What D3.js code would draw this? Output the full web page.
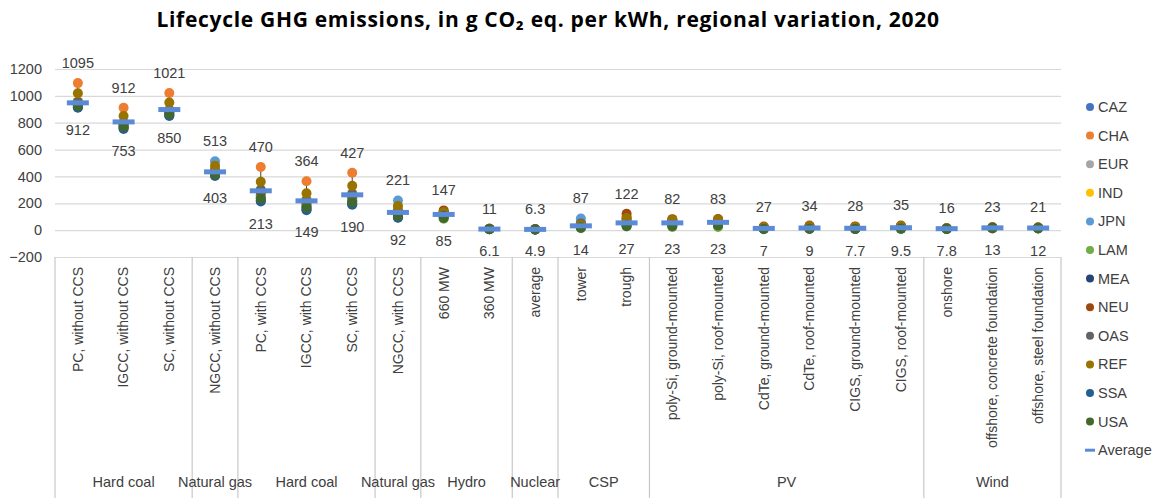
<!DOCTYPE html>
<html>
<head>
<meta charset="utf-8">
<script src="https://cdn.jsdelivr.net/npm/d3@7"></script>
<style>
  html, body { margin: 0; padding: 0; background: #fff; }
  svg { display: block; font-family: "Liberation Sans", Arial, sans-serif; }
</style>
</head>
<body>
<div id="chart"></div>
<script>
// categories (lower level of the x axis) and their groups (upper level)
const categories = [
  'PC, without CCS', 'IGCC, without CCS', 'SC, without CCS',
  'NGCC, without CCS',
  'PC, with CCS', 'IGCC, with CCS', 'SC, with CCS',
  'NGCC, with CCS',
  '660 MW', '360 MW',
  'average',
  'tower', 'trough',
  'poly-Si, ground-mounted', 'poly-Si, roof-mounted', 'CdTe, ground-mounted',
  'CdTe, roof-mounted', 'CIGS, ground-mounted', 'CIGS, roof-mounted',
  'onshore', 'offshore, concrete foundation', 'offshore, steel foundation'
];
const groupNames = ['Hard coal', 'Natural gas', 'Hard coal', 'Natural gas', 'Hydro', 'Nuclear', 'CSP', 'PV', 'Wind'];
const groupSizes = [3, 1, 3, 1, 2, 1, 2, 6, 3];

const regions = ['CAZ', 'CHA', 'EUR', 'IND', 'JPN', 'LAM', 'MEA', 'NEU', 'OAS', 'REF', 'SSA', 'USA'];
const regionColors = ['#4472c4', '#ed7d31', '#a5a5a5', '#ffc000', '#5b9bd5', '#70ad47',
                      '#264478', '#9e480e', '#636363', '#997300', '#255e91', '#43682b'];

// regional values, g CO2 eq. per kWh
const CAZ = [930, 775, 870, 420, 240, 175, 215, 110, 100, 7, 5.2, 30, 45, 45, 50, 10, 12, 10, 13, 9, 15, 14];
const CHA = [1095, 912, 1021, 450, 470, 364, 427, 150, 140, 9, 5.8, 60, 100, 75, 78, 22, 28, 23, 29, 13, 19, 18];
const EUR = [945, 790, 885, 425, 270, 200, 240, 120, 115, 8, 5.4, 25, 50, 50, 55, 12, 15, 12, 15, 10, 16, 15];
const IND = [960, 800, 900, 470, 300, 230, 275, 175, 125, 10, 6.0, 55, 80, 70, 72, 18, 22, 19, 23, 14, 20, 19];
const JPN = [935, 780, 875, 513, 250, 185, 225, 221, 110, 8, 5.5, 87, 70, 55, 60, 14, 17, 14, 18, 11, 17, 16];
const LAM = [940, 785, 880, 430, 260, 190, 235, 125, 85, 6.1, 5.0, 14, 27, 23, 23, 7, 9, 7.7, 9.5, 7.8, 13, 12];
const MEA = [915, 760, 855, 410, 220, 155, 195, 95, 120, 9, 5.6, 35, 55, 55, 58, 13, 16, 13, 17, 12, 18, 17];
const NEU = [950, 795, 890, 425, 280, 210, 250, 115, 147, 11, 6.3, 45, 122, 82, 83, 27, 34, 28, 35, 10.5, 16.5, 15.5];
const OAS = [955, 800, 895, 445, 300, 225, 270, 145, 130, 9.5, 5.9, 50, 85, 65, 68, 17, 21, 18, 22, 13, 19.5, 18];
const REF = [1020, 850, 950, 480, 360, 275, 330, 180, 135, 10, 6.1, 40, 90, 78, 80, 24, 30, 25, 31, 16, 23, 21];
const SSA = [912, 753, 850, 403, 213, 149, 190, 92, 105, 7.5, 5.3, 20, 35, 35, 40, 9, 11, 9, 11.5, 9.5, 15.5, 14.5];
const USA = [925, 770, 865, 415, 235, 170, 210, 105, 90, 6.5, 4.9, 18, 30, 30, 35, 8, 10, 8.5, 10.5, 8.5, 14, 13];
const average = [948, 806, 898, 434, 293, 218, 263, 132, 117, 8, 5.5, 32, 54, 54, 58, 13, 16, 14, 18, 11, 17, 16];

const yTicks = [-200, 0, 200, 400, 600, 800, 1000, 1200];

const regionValues = [CAZ, CHA, EUR, IND, JPN, LAM, MEA, NEU, OAS, REF, SSA, USA];

const width = 1158, height = 498;
const plotLeft = 55, plotRight = 1061, plotTop = 69, plotBottom = 257;
const textColor = '#404040';
const avgColor = '#5b8bd6';

const svg = d3.select('#chart').append('svg')
  .attr('width', width).attr('height', height);

// title
svg.append('text')
  .attr('x', 548).attr('y', 27)
  .attr('text-anchor', 'middle')
  .attr('font-family', '"Open Sans", Lato, sans-serif')
  .attr('font-weight', '700')
  .attr('font-size', '21px')
  .attr('letter-spacing', '0.7px')
  .attr('fill', '#000')
  .text('Lifecycle GHG emissions, in g CO\u2082 eq. per kWh, regional variation, 2020');

const x = d3.scaleBand()
  .domain(d3.range(categories.length))
  .range([plotLeft, plotRight]);

const y = d3.scaleLinear()
  .domain([yTicks[0], yTicks[yTicks.length - 1]])
  .range([plotBottom, plotTop]);

// gridlines + y tick labels
const yAxis = svg.append('g')
  .attr('transform', `translate(${plotLeft},0)`)
  .call(d3.axisLeft(y)
    .tickValues(yTicks)
    .tickSizeInner(-(plotRight - plotLeft))
    .tickSizeOuter(0)
    .tickPadding(13)
    .tickFormat(d3.format('d')));
yAxis.select('.domain').remove();
yAxis.selectAll('.tick line').attr('stroke', '#d9d9d9').attr('stroke-width', 1.2);
yAxis.selectAll('.tick text')
  .attr('font-size', '14.5px')
  .attr('fill', textColor)
  .attr('font-family', '"Liberation Sans", Arial, sans-serif');

// group separators (multi-level category axis)
const bounds = [0];
groupSizes.forEach(n => bounds.push(bounds[bounds.length - 1] + n));
svg.append('g')
  .selectAll('line')
  .data(bounds)
  .join('line')
  .attr('x1', d => d < categories.length ? x(d) : x(categories.length - 1) + x.bandwidth())
  .attr('x2', d => d < categories.length ? x(d) : x(categories.length - 1) + x.bandwidth())
  .attr('y1', plotBottom).attr('y2', height)
  .attr('stroke', '#c8c8c8').attr('stroke-width', 1.2);

// category labels (rotated)
svg.append('g')
  .selectAll('text')
  .data(categories)
  .join('text')
  .attr('transform', (d, i) => `translate(${x(i) + x.bandwidth() / 2},267) rotate(-90)`)
  .attr('dy', '0.35em')
  .attr('text-anchor', 'end')
  .attr('font-size', '14px')
  .attr('fill', textColor)
  .text(d => d);

// group labels
svg.append('g')
  .selectAll('text')
  .data(groupNames)
  .join('text')
  .attr('x', (d, i) => {
    const a = x(bounds[i]);
    const b = x(bounds[i + 1] - 1) + x.bandwidth();
    return (a + b) / 2;
  })
  .attr('y', 487)
  .attr('text-anchor', 'middle')
  .attr('font-size', '14.5px')
  .attr('fill', textColor)
  .text(d => d);

// per-category extents
const extents = categories.map((c, i) => d3.extent(regionValues, v => v[i]));

// high-low lines
svg.append('g')
  .selectAll('line')
  .data(extents)
  .join('line')
  .attr('x1', (d, i) => x(i) + x.bandwidth() / 2)
  .attr('x2', (d, i) => x(i) + x.bandwidth() / 2)
  .attr('y1', d => y(d[0]))
  .attr('y2', d => y(d[1]))
  .attr('stroke', '#404040')
  .attr('stroke-width', 1);

// regional dots
regionValues.forEach((vals, r) => {
  svg.append('g')
    .selectAll('circle')
    .data(vals)
    .join('circle')
    .attr('cx', (d, i) => x(i) + x.bandwidth() / 2)
    .attr('cy', d => y(d))
    .attr('r', 5)
    .attr('fill', regionColors[r]);
});

// average dashes
svg.append('g')
  .selectAll('rect')
  .data(average)
  .join('rect')
  .attr('x', (d, i) => x(i) + x.bandwidth() / 2 - 11)
  .attr('y', d => y(d) - 2.5)
  .attr('width', 22)
  .attr('height', 5)
  .attr('fill', avgColor);

// max / min labels
const labels = svg.append('g')
  .attr('font-size', '14.5px')
  .attr('fill', textColor)
  .attr('text-anchor', 'middle');
labels.selectAll('text.max')
  .data(extents)
  .join('text')
  .attr('class', 'max')
  .attr('x', (d, i) => x(i) + x.bandwidth() / 2)
  .attr('y', d => y(d[1]) - 15)
  .text(d => d[1]);
labels.selectAll('text.min')
  .data(extents)
  .join('text')
  .attr('class', 'min')
  .attr('x', (d, i) => x(i) + x.bandwidth() / 2)
  .attr('y', d => y(d[0]) + 27)
  .text(d => d[0]);

// legend
const legend = svg.append('g').attr('transform', 'translate(1090,107)');
const legendItems = regions.concat(['Average']);
const li = legend.selectAll('g')
  .data(legendItems)
  .join('g')
  .attr('transform', (d, i) => `translate(0,${i * 28.6})`);
li.each(function (d, i) {
  const g = d3.select(this);
  if (i < regions.length) {
    g.append('circle').attr('r', 4).attr('fill', regionColors[i]);
  } else {
    g.append('rect').attr('x', -5).attr('y', -1.5).attr('width', 10).attr('height', 3).attr('fill', avgColor);
  }
  g.append('text')
    .attr('x', 8).attr('dy', '0.35em')
    .attr('font-size', '14.5px')
    .attr('fill', textColor)
    .text(d);
});
</script>
</body>
</html>
